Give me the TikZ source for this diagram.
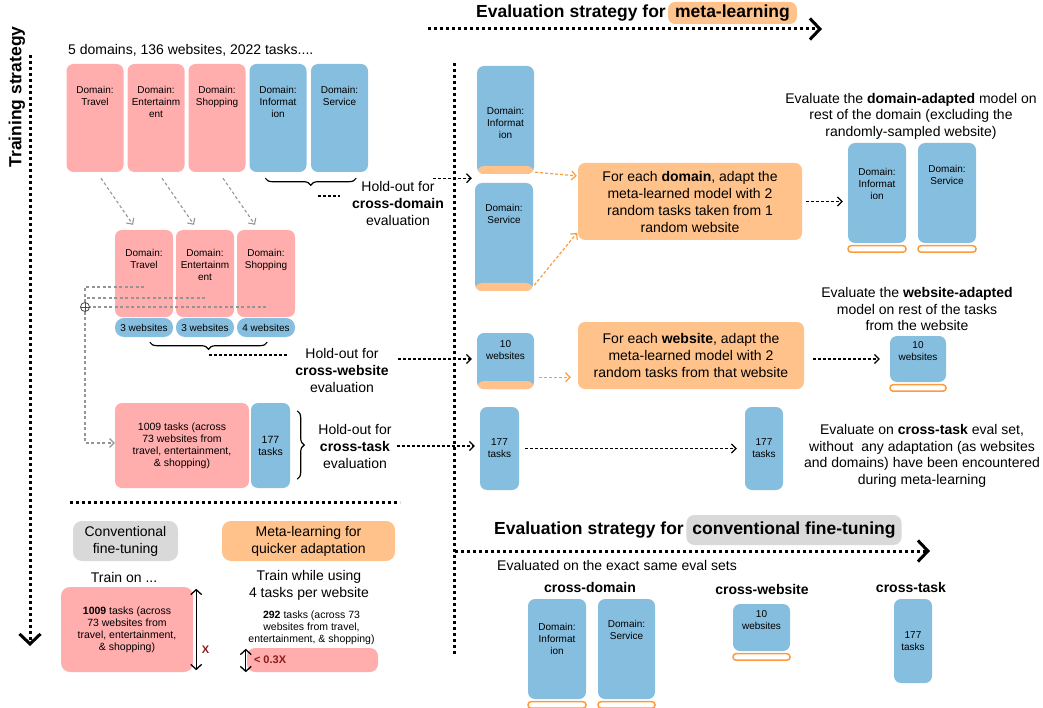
\documentclass[tikz,border=0pt]{standalone}
\usepackage{fontspec}
\setmainfont{Liberation Sans}
\usetikzlibrary{arrows.meta}
\usetikzlibrary{decorations.pathreplacing}

\definecolor{pinkfill}{HTML}{FFADAD}
\definecolor{bluefill}{HTML}{86BEDF}
\definecolor{orangefill}{HTML}{FFC28A}
\definecolor{orangeline}{HTML}{FF9A3D}
\definecolor{grayfill}{HTML}{D9D9D9}
\definecolor{xred}{HTML}{8B1A1A}

\begin{document}
\begin{tikzpicture}[x=1pt,y=-1pt,
    >={Straight Barb[length=4.5pt,width=9pt]},
    box/.style={rectangle, rounded corners=7pt, inner sep=0pt},
    pinkbox/.style={box, fill=pinkfill},
    bluebox/.style={box, fill=bluefill},
    band/.style={path picture={\fill[orangefill]
        ([yshift=8pt]path picture bounding box.south west)
        rectangle (path picture bounding box.south east);}},
    ring/.style={rectangle, rounded corners=3pt, draw=orangeline,
        line width=1.5pt, fill=white, inner sep=0pt, minimum height=6.5pt},
    small/.style={font=\fontsize{10}{12}\selectfont, align=center, inner sep=0pt},
    note/.style={font=\fontsize{10.5}{12}\selectfont, align=center, inner sep=0pt},
    body/.style={font=\fontsize{14}{17}\selectfont, align=center, inner sep=0pt},
    headtext/.style={font=\fontsize{17.5}{20}\selectfont\bfseries, inner sep=0pt},
    dashblack/.style={dash pattern=on 3pt off 2pt, line width=1.2pt},
    dashgray/.style={dash pattern=on 3pt off 2.5pt, line width=1.1pt, draw=black!42},
    dashorange/.style={dash pattern=on 3pt off 2pt, line width=1.2pt, draw=orangeline},
    bigdots/.style={dash pattern=on 3pt off 3pt, line width=3pt},
    bigtip/.style={-{Straight Barb[length=10pt,width=21pt,line width=3pt]}},
    curly/.style={decorate, decoration={brace, amplitude=7pt}, line width=1.2pt}
    ]

    \useasboundingbox (0,0) rectangle (1043,708);

    % training strategy axis
    \node[headtext, rotate=90] (trainlabel) at (17,97) {Training strategy};
    \coordinate (trainstart) at (30,55);
    \coordinate (trainend) at (30,646);
    \draw[bigdots, bigtip] (trainstart) -- (trainend);

    % meta-learning axis
    \node[headtext,
          fill = orangefill,
          rounded corners = 7pt,
          inner xsep = 7pt,
          minimum height = 22pt
          ] (metatag) at (732.5,13) {meta-learning};
    \node[headtext, anchor=east] (metatitle) at (666,13) {Evaluation strategy for};
    \coordinate (metastart) at (428,29);
    \coordinate (metaend) at (822,29);
    \draw[bigdots, bigtip] (metastart) -- (metaend);

    % separators
    \coordinate (vsepstart) at (454,63);
    \coordinate (vsepend) at (454,655);
    \draw[bigdots] (vsepstart) -- (vsepend);
    \coordinate (hsepstart) at (70,502);
    \coordinate (hsepend) at (400,502);
    \draw[bigdots] (hsepstart) -- (hsepend);

    \node[body, anchor=west] (summary) at (68,50) {5 domains, 136 websites, 2022 tasks....};

    % all five domains
    \node[pinkbox,
          minimum width = 57pt,
          minimum height = 108pt
          ] (travel) at (95,118) {};
    \node[small, anchor=north] (travel-txt) at ([yshift=-22pt]travel.north) {Domain:\\Travel};

    \node[pinkbox,
          minimum width = 57pt,
          minimum height = 108pt
          ] (entertain) at (156,118) {};
    \node[small, anchor=north] (entertain-txt) at ([yshift=-22pt]entertain.north) {Domain:\\Entertainm\\ent};

    \node[pinkbox,
          minimum width = 57pt,
          minimum height = 108pt
          ] (shopping) at (217,118) {};
    \node[small, anchor=north] (shopping-txt) at ([yshift=-22pt]shopping.north) {Domain:\\Shopping};

    \node[bluebox,
          minimum width = 57pt,
          minimum height = 108pt
          ] (information) at (278,118) {};
    \node[small, anchor=north] (information-txt) at ([yshift=-22pt]information.north) {Domain:\\Informat\\ion};

    \node[bluebox,
          minimum width = 57pt,
          minimum height = 108pt
          ] (service) at (339.5,118) {};
    \node[small, anchor=north] (service-txt) at ([yshift=-22pt]service.north) {Domain:\\Service};

    % training domains, split by website
    \node[pinkbox,
          minimum width = 58pt,
          minimum height = 87pt
          ] (travelsub) at (144,273.5) {};
    \node[small, anchor=north] (travelsub-txt) at ([yshift=-19.5pt]travelsub.north) {Domain:\\Travel};

    \node[pinkbox,
          minimum width = 58pt,
          minimum height = 87pt
          ] (entertainsub) at (205,273.5) {};
    \node[small, anchor=north] (entertainsub-txt) at ([yshift=-19.5pt]entertainsub.north) {Domain:\\Entertainm\\ent};

    \node[pinkbox,
          minimum width = 58pt,
          minimum height = 87pt
          ] (shoppingsub) at (266,273.5) {};
    \node[small, anchor=north] (shoppingsub-txt) at ([yshift=-19.5pt]shoppingsub.north) {Domain:\\Shopping};

    \node[bluebox, small, rounded corners=9pt,
          minimum width = 58pt,
          minimum height = 19pt
          ] (sites1) at (144,327.5) {3 websites};
    \node[bluebox, small, rounded corners=9pt,
          minimum width = 58pt,
          minimum height = 19pt
          ] (sites2) at (205,327.5) {3 websites};
    \node[bluebox, small, rounded corners=9pt,
          minimum width = 58pt,
          minimum height = 19pt
          ] (sites3) at (266,327.5) {4 websites};

    \draw[white, dash pattern=on 1.5pt off 1.5pt, line width=0.7pt]
    (travelsub.south west) -- (travelsub.south east)
    (entertainsub.south west) -- (entertainsub.south east)
    (shoppingsub.south west) -- (shoppingsub.south east);

    % training tasks, split by task
    \node[pinkbox, note,
          minimum width = 134pt,
          minimum height = 85pt
          ] (trainset) at (182,445.5) {1009 tasks (across\\73 websites from\\travel, entertainment,\\\& shopping)};
    \node[bluebox, note,
          minimum width = 39pt,
          minimum height = 85pt
          ] (tasksplit) at (270.5,445.5) {177\\tasks};
    \draw[white, dash pattern=on 1.5pt off 1.5pt, line width=0.7pt]
    ([xshift=1pt]trainset.north east) -- ([xshift=1pt]trainset.south east);

    % gray flow on the left
    \draw[dashgray, ->] ([xshift=6pt,yshift=-6pt]travel.south) -- ([xshift=-11pt,yshift=5pt]travelsub.north);
    \draw[dashgray, ->] ([xshift=6pt,yshift=-6pt]entertain.south) -- ([xshift=-11pt,yshift=5pt]entertainsub.north);
    \draw[dashgray, ->] ([xshift=6pt,yshift=-6pt]shopping.south) -- ([xshift=-11pt,yshift=5pt]shoppingsub.north);

    \node[circle, draw=black!70, line width=0.8pt,
          minimum size = 9pt,
          inner sep = 0pt
          ] (merge) at (85,307) {};
    \draw[black!70, line width=0.8pt] (merge.north) -- (merge.south) (merge.west) -- (merge.east);

    \coordinate (from1) at ([yshift=-13.5pt]travelsub.center);
    \coordinate (from2) at ([yshift=-24.5pt]entertainsub.center);
    \coordinate (from3) at ([yshift=-33.5pt]shoppingsub.center);
    \draw[dashgray] (from1) -| (merge.north);
    \draw[dashgray] (from2) -- (from2 -| merge);
    \draw[dashgray] (from3) -- (merge.east);
    \draw[dashgray, ->] (merge.south) |- ([yshift=2.5pt]trainset.west);

    % hold-out sets
    \draw[curly] ([xshift=-12pt,yshift=-6pt]service.south east) -- ([xshift=16pt,yshift=-6pt]information.south west);
    \coordinate (domtip) at (311,186);
    \node[body] (holddomain) at (398,203) {Hold-out for\\\textbf{cross-domain}\\evaluation};

    \draw[curly] ([xshift=-28pt,yshift=-5pt]sites3.south east) -- ([xshift=35pt,yshift=-5pt]sites1.south west);
    \coordinate (webtip) at (208.5,349);
    \node[body] (holdweb) at (342,370) {Hold-out for\\\textbf{cross-website}\\evaluation};

    \draw[curly] ([xshift=7pt,yshift=-8pt]tasksplit.north east) -- ([xshift=7pt,yshift=9pt]tasksplit.south east);
    \node[body] (holdtask) at (355,446) {Hold-out for\\\textbf{cross-task}\\evaluation};

    % meta-learning evaluation
    \node[bluebox, band,
          minimum width = 57pt,
          minimum height = 108pt
          ] (metainfo) at (505.5,120) {};
    \node[small, anchor=north] (metainfo-txt) at ([yshift=-41.5pt]metainfo.north) {Domain:\\Informat\\ion};

    \node[bluebox, band,
          minimum width = 58pt,
          minimum height = 108pt
          ] (metaservice) at (504,237) {};
    \node[small, anchor=north] (metaservice-txt) at ([yshift=-21.5pt]metaservice.north) {Domain:\\Service};

    \node[bluebox, band,
          minimum width = 57pt,
          minimum height = 56pt
          ] (metaweb) at (505.5,361) {};
    \node[small, anchor=north] (metaweb-txt) at ([yshift=-7.5pt]metaweb.north) {10\\websites};

    \node[bluebox, small,
          minimum width = 39pt,
          minimum height = 83pt
          ] (metatask) at (499.5,448.5) {177\\tasks};

    \node[box, body,
          fill = orangefill,
          minimum width = 224pt,
          minimum height = 77pt
          ] (domadapt) at (690,201.5) {For each \textbf{domain}, adapt the\\meta-learned model with 2\\random tasks taken from 1\\random website};

    \node[box, body,
          fill = orangefill,
          minimum width = 226pt,
          minimum height = 67pt
          ] (webadapt) at (691,355.5) {For each \textbf{website}, adapt the\\meta-learned model with 2\\random tasks from that website};

    \node[bluebox,
          minimum width = 58pt,
          minimum height = 100pt
          ] (evalinfo) at (877,193) {};
    \node[small, anchor=north] (evalinfo-txt) at ([yshift=-25.5pt]evalinfo.north) {Domain:\\Informat\\ion};
    \node[ring, minimum width=58pt, anchor=north] (evalinfo-ring) at ([yshift=-1.75pt]evalinfo.south) {};

    \node[bluebox,
          minimum width = 58pt,
          minimum height = 100pt
          ] (evalservice) at (947,193) {};
    \node[small, anchor=north] (evalservice-txt) at ([yshift=-22.5pt]evalservice.north) {Domain:\\Service};
    \node[ring, minimum width=58pt, anchor=north] (evalservice-ring) at ([yshift=-1.75pt]evalservice.south) {};

    \node[bluebox,
          minimum width = 56pt,
          minimum height = 46pt
          ] (evalweb) at (918,359) {};
    \node[small, anchor=north] (evalweb-txt) at ([yshift=-5.5pt]evalweb.north) {10\\websites};
    \node[ring, minimum width=56pt, anchor=north] (evalweb-ring) at ([yshift=-1.75pt]evalweb.south) {};

    \node[bluebox, small,
          minimum width = 38pt,
          minimum height = 83pt
          ] (evaltask) at (764,448.5) {177\\tasks};

    \node[body, font=\fontsize{14}{16.5}\selectfont] (domnote) at (911,116) {Evaluate the \textbf{domain-adapted} model on\\rest of the domain (excluding the\\randomly-sampled website)};
    \node[body, font=\fontsize{14}{16.5}\selectfont] (webnote) at (917,309) {Evaluate the \textbf{website-adapted}\\model on rest of the tasks\\from the website};
    \node[body, font=\fontsize{14}{16.5}\selectfont] (tasknote) at (922,456) {Evaluate on \textbf{cross-task} eval set,\\without\ \ any adaptation (as websites\\and domains) have been encountered\\during meta-learning};

    % connectors
    \coordinate (domline) at ([yshift=-10pt]domtip);
    \draw[dashblack, shorten <=7pt, shorten >=12pt] (domline) -- (domline -| holddomain.west);
    \coordinate (domin) at ([xshift=-5pt,yshift=-4pt]metainfo.south west);
    \draw[dashblack, ->] (domin -| holddomain.east) ++(-11,0) -- (domin);

    \coordinate (webline) at ([yshift=-6pt]webtip);
    \draw[dashblack, shorten >=8pt] (webline) -- (webline -| holdweb.west);
    \coordinate (webin) at ([xshift=-5pt,yshift=2pt]metaweb.west);
    \draw[dashblack, ->, shorten <=9pt] (webin -| holdweb.east) -- (webin);

    \draw[dashblack, ->, shorten <=5pt, shorten >=5pt] (holdtask.east) -- (holdtask.east -| metatask.west);

    \draw[dashorange, ->, shorten >=1pt] ([xshift=1pt,yshift=2pt]metainfo.south east) -- ([yshift=25.5pt]domadapt.west);
    \draw[dashorange, ->, shorten >=1pt] ([xshift=1pt,yshift=6pt]metaservice.south east) -- ([yshift=-30.5pt]domadapt.west);
    \coordinate (webo) at ([xshift=5pt,yshift=12pt]metaweb.south east);
    \draw[dashorange, ->, shorten >=7pt] (webo) -- (webo -| webadapt.west);

    \draw[dashblack, ->, shorten <=4pt, shorten >=5pt] (domadapt.east) -- (domadapt.east -| evalinfo.west);
    \draw[dashblack, ->, shorten <=9pt, shorten >=10pt] (evalweb.west -| webadapt.east) -- (evalweb.west);
    \draw[dashblack, ->, shorten <=6pt, shorten >=8pt] (metatask.east) -- (evaltask.west);

    % conventional fine-tuning evaluation
    \node[headtext,
          fill = grayfill,
          rounded corners = 8pt,
          inner xsep = 6pt,
          minimum height = 30pt
          ] (convtag) at (794,530) {conventional fine-tuning};
    \node[headtext, anchor=east] (convtitle) at (684,530) {Evaluation strategy for};
    \coordinate (convstart) at (455,551);
    \coordinate (convend) at (930,551);
    \draw[bigdots, bigtip] (convstart) -- (convend);
    \node[body, anchor=west] (sametext) at (497,565) {Evaluated on the exact same eval sets};

    \node[body, font=\fontsize{14}{17}\selectfont\bfseries] (cdlabel) at (590,587) {cross-domain};
    \node[body, font=\fontsize{14}{17}\selectfont\bfseries] (cwlabel) at (762,589) {cross-website};
    \node[body, font=\fontsize{14}{17}\selectfont\bfseries] (ctlabel) at (911,587) {cross-task};

    \node[bluebox,
          minimum width = 58pt,
          minimum height = 100pt
          ] (convinfo) at (557,649) {};
    \node[small, anchor=north] (convinfo-txt) at ([yshift=-24.5pt]convinfo.north) {Domain:\\Informat\\ion};
    \node[ring, minimum width=58pt, anchor=north] (convinfo-ring) at ([yshift=-1.75pt]convinfo.south) {};

    \node[bluebox,
          minimum width = 57pt,
          minimum height = 100pt
          ] (convservice) at (626.5,649) {};
    \node[small, anchor=north] (convservice-txt) at ([yshift=-21.5pt]convservice.north) {Domain:\\Service};
    \node[ring, minimum width=57pt, anchor=north] (convservice-ring) at ([yshift=-1.75pt]convservice.south) {};

    \node[bluebox,
          minimum width = 57pt,
          minimum height = 47pt
          ] (convweb) at (761.5,627.5) {};
    \node[small, anchor=north] (convweb-txt) at ([yshift=-6.5pt]convweb.north) {10\\websites};
    \node[ring, minimum width=57pt, anchor=north] (convweb-ring) at ([yshift=-1.75pt]convweb.south) {};

    \node[bluebox, small,
          minimum width = 38pt,
          minimum height = 84pt
          ] (convtask) at (913,641) {177\\tasks};

    % training data comparison
    \node[box, body,
          fill = grayfill,
          rounded corners = 9pt,
          minimum width = 105pt,
          minimum height = 40pt
          ] (convbox) at (125.5,541) {Conventional\\fine-tuning};
    \node[box, body,
          fill = orangefill,
          rounded corners = 9pt,
          minimum width = 173pt,
          minimum height = 40pt
          ] (metabox) at (308.5,541) {Meta-learning for\\quicker adaptation};

    \node[body] (trainon) at (124,577) {Train on ...};
    \node[body] (trainwhile) at (309,585.5) {Train while using\\4 tasks per website};

    \node[pinkbox, note,
          rounded corners = 9pt,
          minimum width = 132pt,
          minimum height = 85pt
          ] (convtrain) at (127,629.5) {\textbf{1009} tasks (across\\73 websites from\\travel, entertainment,\\\& shopping)};
    \draw[<->, line width=1.3pt, >={Straight Barb[length=5pt,width=11pt]}]
    ([xshift=3pt,yshift=-2pt]convtrain.north east) -- ([xshift=3pt,yshift=2pt]convtrain.south east)
    node[pos=0.75, anchor=west, xshift=5pt, inner sep=0pt, text=xred,
         font=\fontsize{11}{12}\selectfont\bfseries] (xlabel) {X};

    \node[note] (metacount) at (311.5,628) {\textbf{292} tasks (across 73\\websites from travel,\\entertainment, \& shopping)};
    \node[pinkbox,
          rounded corners = 8pt,
          minimum width = 131pt,
          minimum height = 24pt
          ] (metatrain) at (312.5,660) {};
    \draw[<->, line width=1.3pt, >={Straight Barb[length=5pt,width=11pt]}]
    ([xshift=-1pt,yshift=-1pt]metatrain.north west) -- ([xshift=-1pt]metatrain.south west);
    \node[anchor=west, inner sep=0pt, text=xred,
          font=\fontsize{11}{12}\selectfont\bfseries] (ratio) at ([xshift=7pt]metatrain.west) {< 0.3X};

\end{tikzpicture}
\end{document}
